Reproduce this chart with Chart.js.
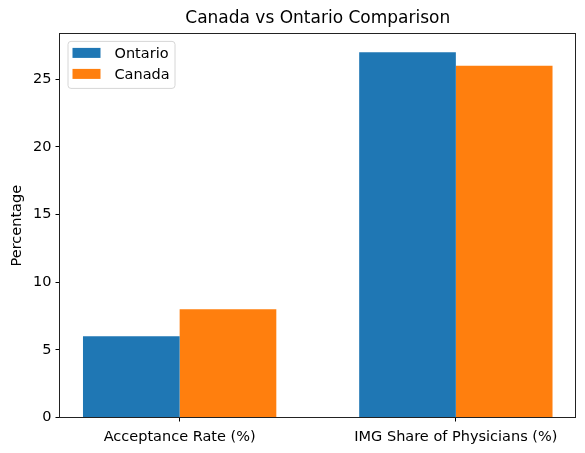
<!DOCTYPE html>
<html>
<head>
<meta charset="utf-8">
<script src="https://cdn.jsdelivr.net/npm/chart.js@4"></script>
<style>
html,body{margin:0;padding:0;background:#fff;}
#wrap{width:585px;height:453px;position:relative;}
</style>
</head>
<body>
<div id="wrap"><canvas id="c" width="585" height="453"></canvas></div>
<script>
const categories = ["Acceptance Rate (%)", "IMG Share of Physicians (%)"];
const seriesNames = ["Ontario", "Canada"];
const ontarioValues = [6, 27];
const canadaValues = [8, 26];
const yTicks = [0, 5, 10, 15, 20, 25];
const colors = ["#1f77b4", "#ff7f0e"];
const FONT = "'DejaVu Sans', sans-serif";
const TICK_SIZE = 14.5;

function toPoints(vals){ return vals.map((v,i)=>({x:i, y:v})); }

const boxPlugin = {
  id: 'box',
  afterDatasetsDraw(chart){
    const {ctx, chartArea:a} = chart;
    const l = Math.floor(a.left)+0.5, r = Math.floor(a.right)-0.5;
    const t = Math.floor(a.top)+0.5, b = Math.floor(a.bottom)+0.5;
    ctx.save();
    ctx.strokeStyle = '#222';
    ctx.lineWidth = 1;
    ctx.strokeRect(l, t, r-l, b-t);
    ctx.restore();
  }
};

const legendPlugin = {
  id: 'mplLegend',
  afterDraw(chart){
    const {ctx, chartArea:a} = chart;
    const x0 = a.left + 8, y0 = a.top + 7, w = 107, h = 47;
    ctx.save();
    ctx.beginPath();
    ctx.roundRect(x0+0.5, y0+0.5, w, h, 3);
    ctx.fillStyle = 'rgba(255,255,255,0.8)';
    ctx.fill();
    ctx.strokeStyle = '#d6d6d6';
    ctx.lineWidth = 1;
    ctx.stroke();
    ctx.font = TICK_SIZE + "px " + FONT;
    ctx.textBaseline = 'middle';
    chart.data.datasets.forEach((ds, i) => {
      const cy = y0 + 12 + i*21;
      ctx.fillStyle = ds.backgroundColor;
      ctx.fillRect(x0+5, cy-5, 28, 10);
      ctx.fillStyle = '#000';
      ctx.fillText(ds.label, x0+47, cy+1);
    });
    ctx.restore();
  }
};

new Chart(document.getElementById('c'), {
  type: 'bar',
  data: {
    datasets: [
      {label: seriesNames[0], data: toPoints(ontarioValues), backgroundColor: colors[0], borderWidth: 0},
      {label: seriesNames[1], data: toPoints(canadaValues), backgroundColor: colors[1], borderWidth: 0}
    ]
  },
  options: {
    responsive: false,
    animation: false,
    devicePixelRatio: 1,
    layout: {padding: {left: 0, right: 9, top: 0, bottom: 0}},
    categoryPercentage: 0.7,
    barPercentage: 1.0,
    plugins: {
      legend: {display: false},
      tooltip: {enabled: false},
      title: {
        display: true,
        fullSize: false,
        text: 'Canada vs Ontario Comparison',
        color: '#000',
        font: {family: FONT, size: 17, weight: 'normal', lineHeight: 1.2},
        padding: {top: 8, bottom: 5.5}
      }
    },
    scales: {
      x: {
        type: 'linear',
        min: -0.435,
        max: 1.435,
        offset: false,
        afterBuildTicks(scale){ scale.ticks = categories.map((c,i)=>({value:i})); },
        afterFit(scale){ scale.height = 35.5; },
        ticks: {
          callback: (v) => categories[v] ?? '',
          color: '#000',
          font: {family: FONT, size: TICK_SIZE},
          padding: 7,
          maxRotation: 0,
          autoSkip: false
        },
        grid: {display: true, offset: false, drawOnChartArea: false, drawTicks: true, tickLength: 4, tickColor: '#000', tickWidth: 1},
        border: {display: false}
      },
      y: {
        min: 0,
        max: 28.35,
        afterBuildTicks(scale){ scale.ticks = yTicks.map(v=>({value:v})); },
        afterFit(scale){ scale.width = 59.5; },
        ticks: {
          color: '#000',
          font: {family: FONT, size: TICK_SIZE},
          padding: 4
        },
        title: {
          display: true,
          text: 'Percentage',
          color: '#000',
          font: {family: FONT, size: TICK_SIZE},
          padding: {top: 9, bottom: 4}
        },
        grid: {display: true, offset: false, drawOnChartArea: false, drawTicks: true, tickLength: 4, tickColor: '#000', tickWidth: 1},
        border: {display: false}
      }
    }
  },
  plugins: [boxPlugin, legendPlugin]
});
</script>
</body>
</html>
